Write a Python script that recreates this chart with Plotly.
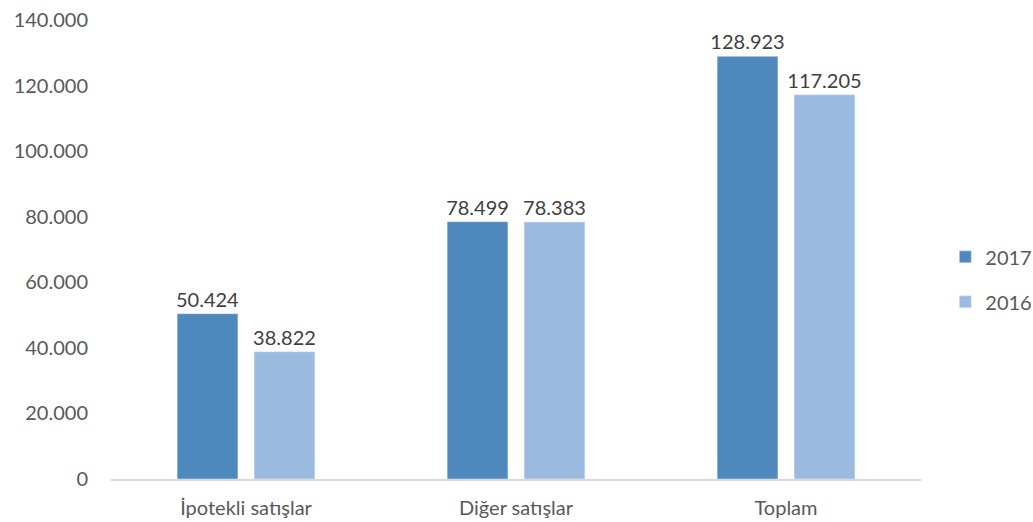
import plotly.graph_objects as go

categories = ["İpotekli satışlar", "Diğer satışlar", "Toplam"]
sales_2017 = [50424, 78499, 128923]
sales_2016 = [38822, 78383, 117205]
y_ticks = [0, 20000, 40000, 60000, 80000, 100000, 120000, 140000]

font_family = "Lato, 'Open Sans', sans-serif"
label_font = dict(size=20, color="#404040", family=font_family)

fig = go.Figure()
fig.add_trace(go.Bar(
    name="2017", x=categories, y=sales_2017,
    legendgroup="g2017",
    marker=dict(color="#4F88BC"),
    texttemplate="%{y:,.0f}", textposition="outside",
    textfont=label_font, constraintext="none",
    cliponaxis=False,
))
fig.add_trace(go.Bar(
    name="2016", x=categories, y=sales_2016,
    legendgroup="g2016",
    marker=dict(color="#9ABAE0"),
    texttemplate="%{y:,.0f}", textposition="outside",
    textfont=label_font, constraintext="none",
    cliponaxis=False,
))

fig.update_layout(
    width=1033, height=522,
    separators=",.",
    barmode="group",
    bargap=0.43,
    bargroupgap=0.21,
    plot_bgcolor="white",
    paper_bgcolor="white",
    margin=dict(l=111, r=112, t=20, b=43, autoexpand=False),
    font=dict(family=font_family, size=20, color="#595959"),
    legend=dict(
        x=1.03, xanchor="left", y=0.435, yanchor="middle",
        font=dict(size=20, color="#595959"),
        itemwidth=30, tracegroupgap=16,
        traceorder="grouped",
    ),
    yaxis=dict(
        range=[0, 140000], tickvals=y_ticks, tickformat=",.0f",
        showgrid=False, zeroline=False, showline=False,
        ticks="", ticklabelstandoff=22, automargin=False,
        tickfont=dict(size=20, color="#595959"),
    ),
    xaxis=dict(
        showline=True, linecolor="#D9D9D9", linewidth=2,
        showgrid=False, ticks="", ticklabelstandoff=10, automargin=False,
        tickfont=dict(size=20, color="#595959"),
    ),
)

fig.write_html("out.html")
